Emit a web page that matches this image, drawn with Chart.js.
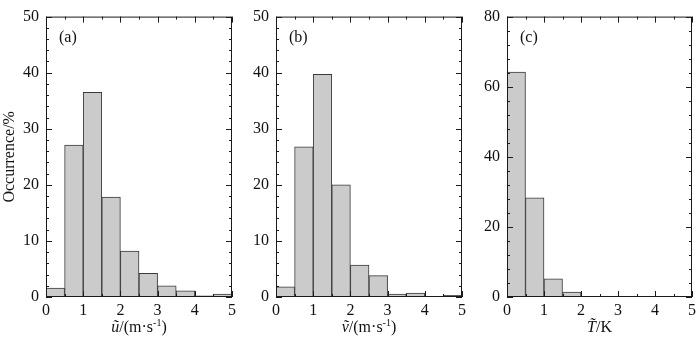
<!DOCTYPE html>
<html>
<head>
<meta charset="utf-8">
<script src="https://cdn.jsdelivr.net/npm/chart.js@4.4.0/dist/chart.umd.min.js"></script>
<style>
  html, body { margin: 0; padding: 0; background: #fff; }
  #wrap { position: relative; width: 700px; height: 338px; }
  #wrap canvas { position: absolute; top: 0; }
</style>
</head>
<body>
<div id="wrap">
  <canvas id="pa" width="240" height="338" style="left:0px"></canvas>
  <canvas id="pb" width="234" height="338" style="left:236px"></canvas>
  <canvas id="pc" width="234" height="338" style="left:466px"></canvas>
</div>
<script>
// bin centres (bin width 0.5, from 0 to 5)
const binCenters = [0.25, 0.75, 1.25, 1.75, 2.25, 2.75, 3.25, 3.75, 4.25, 4.75];

// occurrence (%) per bin
const uOcc = [1.6, 27.1, 36.5, 17.8, 8.2, 4.2, 2.0, 1.1, 0.2, 0.5];
const vOcc = [1.8, 26.8, 39.7, 20.0, 5.7, 3.8, 0.5, 0.7, 0.1, 0.3];
const tOcc = [64.2, 28.3, 5.2, 1.4, 0.2, 0.2, 0, 0, 0, 0];

const serif = "'Liberation Serif', 'Times New Roman', serif";

// frame + inward ticks on all four sides, panel letter, x title
const frameTicks = {
  id: 'frameTicks',
  afterDatasetsDraw(chart, args, opts) {
    const {ctx, chartArea: {left, right, top, bottom}, scales: {x, y}} = chart;
    ctx.save();
    ctx.strokeStyle = '#1a1a1a';
    ctx.lineWidth = 1;
    ctx.strokeRect(left + 0.5, top + 0.5, right - left - 1, bottom - top - 1);
    ctx.beginPath();
    for (let v = 0; v <= 5.001; v += 0.5) {
      const px = Math.round(x.getPixelForValue(v)) + 0.5;
      const len = Math.abs(v - Math.round(v)) < 1e-6 ? 6 : 3;
      ctx.moveTo(px, bottom); ctx.lineTo(px, bottom - len);
      ctx.moveTo(px, top); ctx.lineTo(px, top + len);
    }
    for (let v = 0; v <= opts.ymax + 1e-6; v += opts.minor) {
      const py = Math.round(y.getPixelForValue(v)) + 0.5;
      const len = (v % opts.major) < 1e-6 ? 6 : 3;
      ctx.moveTo(left, py); ctx.lineTo(left + len, py);
      ctx.moveTo(right, py); ctx.lineTo(right - len, py);
    }
    ctx.stroke();

    // panel letter
    ctx.fillStyle = '#111';
    ctx.font = '16px ' + serif;
    ctx.textBaseline = 'alphabetic';
    ctx.textAlign = 'left';
    ctx.fillText(opts.letter, left + 13, top + 25);

    // x title made of pieces (italic / normal / superscript)
    const parts = opts.xtitle;
    let total = 0;
    for (const p of parts) {
      ctx.font = (p.it ? 'italic ' : '') + (p.sup ? '10px ' : '16px ') + serif;
      p.w = ctx.measureText(p.t).width;
      total += p.w;
    }
    let cx = (left + right) / 2 - total / 2;
    const base = bottom + 35;
    for (const p of parts) {
      ctx.font = (p.it ? 'italic ' : '') + (p.sup ? '10px ' : '16px ') + serif;
      ctx.fillText(p.t, cx, p.sup ? base - 6 : base);
      cx += p.w;
    }
    ctx.restore();
  }
};

function makePanel(id, values, ymax, major, minor, yWidth, padRight, letter, xtitle, ytitle) {
  const data = binCenters.map((c, i) => ({x: c, y: values[i]}));
  return new Chart(document.getElementById(id), {
    type: 'bar',
    data: {
      datasets: [{
        data: data,
        backgroundColor: '#cbcbcb',
        borderColor: '#3a3a3a',
        borderWidth: 1,
        barPercentage: 1,
        categoryPercentage: 1
      }]
    },
    options: {
      responsive: false,
      animation: false,
      devicePixelRatio: 1,
      layout: { padding: { top: 8, right: padRight, left: 0, bottom: 0 } },
      plugins: {
        legend: { display: false },
        tooltip: { enabled: false },
        frameTicks: { ymax: ymax, major: major, minor: minor, letter: letter, xtitle: xtitle }
      },
      scales: {
        x: {
          type: 'linear', min: 0, max: 5, offset: false,
          grid: { display: false, drawTicks: false, offset: false },
          border: { display: false },
          ticks: { stepSize: 1, padding: 4, color: '#111', font: { family: serif, size: 16 } },
          afterFit: s => { s.height = 41; }
        },
        y: {
          min: 0, max: ymax,
          grid: { display: false, drawTicks: false },
          border: { display: false },
          ticks: { stepSize: major, padding: 7, color: '#111', font: { family: serif, size: 16 } },
          title: { display: !!ytitle, text: ytitle || '', color: '#111', padding: 0, font: { family: serif, size: 16 } },
          afterFit: s => { s.width = yWidth; }
        }
      }
    },
    plugins: [frameTicks]
  });
}

makePanel('pa', uOcc, 50, 10, 2, 46, 5, '(a)',
  [{t: 'u\u0303', it: true}, {t: '/(m\u00b7s'}, {t: '-1', sup: true}, {t: ')'}], 'Occurrence/%');
makePanel('pb', vOcc, 50, 10, 2, 40, 5, '(b)',
  [{t: 'v\u0303', it: true}, {t: '/(m\u00b7s'}, {t: '-1', sup: true}, {t: ')'}], null);
makePanel('pc', tOcc, 80, 20, 4, 41, 4, '(c)',
  [{t: 'T\u0303', it: true}, {t: '/K'}], null);
</script>
</body>
</html>
